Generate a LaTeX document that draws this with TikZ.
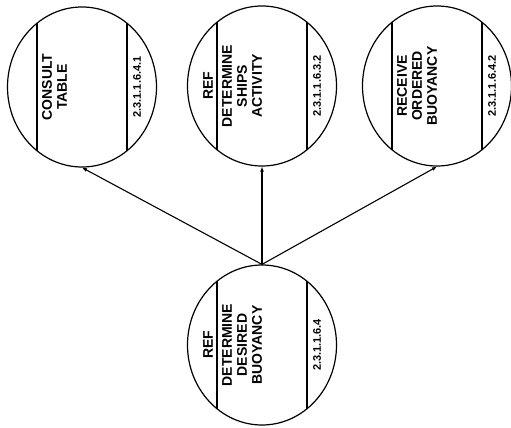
\documentclass[tikz,border=0pt]{standalone}
\usepackage{fontspec}
\usepackage{tikz}
\usetikzlibrary{arrows.meta,calc,shapes.geometric}
\newfontfamily\stencilfont{Liberation Sans}
\tikzset{
  bubble/.style={ellipse,draw,line width=1.2pt,minimum width=149pt,minimum height=160pt,inner sep=0pt},
  tagtext/.style={rotate=90,inner sep=0pt,align=center,font=\stencilfont\bfseries\fontsize{14}{15}\selectfont},
  numtext/.style={rotate=90,inner sep=0pt,font=\stencilfont\bfseries\fontsize{11}{12}\selectfont},
  flow/.style={-{Latex[length=5pt,width=4pt]},line width=1.1pt}
}
\newcommand{\bubble}[6]{% name, x, y, ref, title, number
  \node[bubble] (#1) at (#2pt,#3pt) {};
  \draw[line width=1.2pt] ($(#1.center)+(-45pt,-63.8pt)$)--++(0,127.6pt);
  \draw[line width=1.2pt] ($(#1.center)+(45pt,-63.8pt)$)--++(0,127.6pt);
  \node[tagtext] (#1ref) at ($(#1.center)+(-54pt,0)$) {#4};
  \node[tagtext,anchor=north] (#1title) at ($(#1.center)+(-40pt,0)$) {#5};
  \node[numtext] (#1num) at ($(#1.center)+(55pt,0)$) {#6};}

\begin{document}
\begin{tikzpicture}
  \useasboundingbox (0,0) rectangle (511pt,428pt);
  \bubble{consult}{82}{341}{}{CONSULT\\TABLE}{2.3.1.1.6.4.1}
  \bubble{ships}{262}{342}{REF}{DETERMINE\\SHIPS\\ACTIVITY}{2.3.1.1.6.3.2}
  \bubble{receive}{437}{342}{}{RECEIVE\\ORDERED\\BUOYANCY}{2.3.1.1.6.4.2}
  \bubble{desired}{262}{83}{REF}{DETERMINE\\DESIRED\\BUOYANCY}{2.3.1.1.6.4}
  \draw[flow] (desired.north) -- (consult.south);
  \draw[flow] (desired.north) -- (ships.south);
  \draw[flow] (desired.north) -- (receive.south);
\end{tikzpicture}
\end{document}
